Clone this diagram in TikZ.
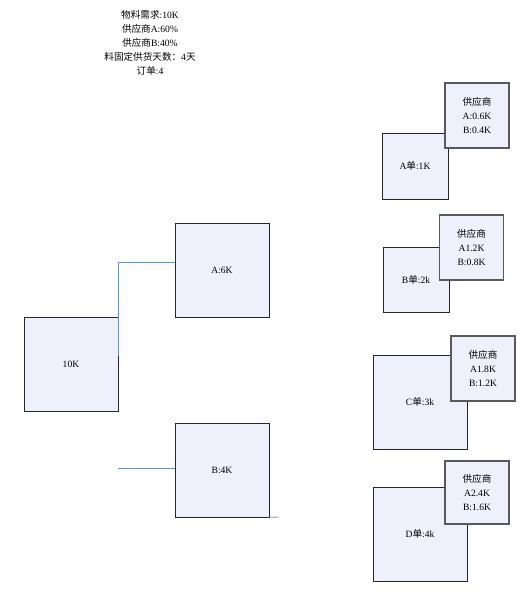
\documentclass[tikz,border=0pt]{standalone}
\usepackage{fontspec}
\setmainfont{Liberation Serif}
\newfontfamily\cjk{Noto Sans CJK SC}
\newcommand{\zh}[1]{{\cjk #1}}
\usetikzlibrary{positioning}
\definecolor{fondcase}{HTML}{EEF0FC}
\definecolor{bordfour}{HTML}{5A5A5A}
\definecolor{lienbleu}{HTML}{6F8FC8}

\begin{document}
\begin{tikzpicture}[
  x=1pt, y=-1pt,
  font=\fontsize{9.6}{14}\selectfont,
  boite/.style={draw=black!85, line width=0.7pt, fill=fondcase, align=center, inner sep=0pt},
  commande/.style={boite, minimum width=66pt, minimum height=66pt},
  grande/.style={boite, minimum width=94pt, minimum height=94pt},
  fourn/.style={boite, draw=bordfour, line width=1.1pt, minimum width=64pt, minimum height=65pt},
  lien/.style={lienbleu, line width=0.8pt},
]
\useasboundingbox (0,0) rectangle (524,594);
% les donnees
\node[align=center] (donnees) at (150,43)
  {\zh{物料需求}:10K\\ \zh{供应商}A:60\%\\ \zh{供应商}B:40\%\\
   \zh{料固定供货天数：}4\zh{天}\\ \zh{订单}:4};
% la repartition
\node[grande] (total) at (71,364.5) {10K};
\node[grande] (a6k) at (222,270) {A:6K};
\node[grande] (b4k) at (222,470) {B:4K};
\coordinate (bgauche) at (118,468);
\coordinate (bdroite) at (279,517);
\draw[lien] ([yshift=8.5pt]total.east) |- ([yshift=8pt]a6k.west);
\draw[lien] (bgauche) -- ([yshift=2pt]b4k.west);
\draw[lien] (b4k.south east) -- (bdroite);
% les commandes et leurs fournisseurs
\node[commande] (cmdA) at (415,166) {A\zh{单}:1K};
\node[fourn] (fourA) at (477,115.5) {\zh{供应商}\\A:0.6K\\B:0.4K};
\node[commande, minimum height=65pt] (cmdB) at (416,279.5) {B\zh{单}:2k};
\node[fourn] (fourB) at (471.5,247.5) {\zh{供应商}\\A1.2K\\B:0.8K};
\node[grande] (cmdC) at (420,402) {C\zh{单}:3k};
\node[fourn] (fourC) at (483,368.5) {\zh{供应商}\\A1.8K\\B:1.2K};
\node[grande] (cmdD) at (420,534) {D\zh{单}:4k};
\node[fourn, minimum height=63pt] (fourD) at (477,492.5) {\zh{供应商}\\A2.4K\\B:1.6K};
\end{tikzpicture}
\end{document}
